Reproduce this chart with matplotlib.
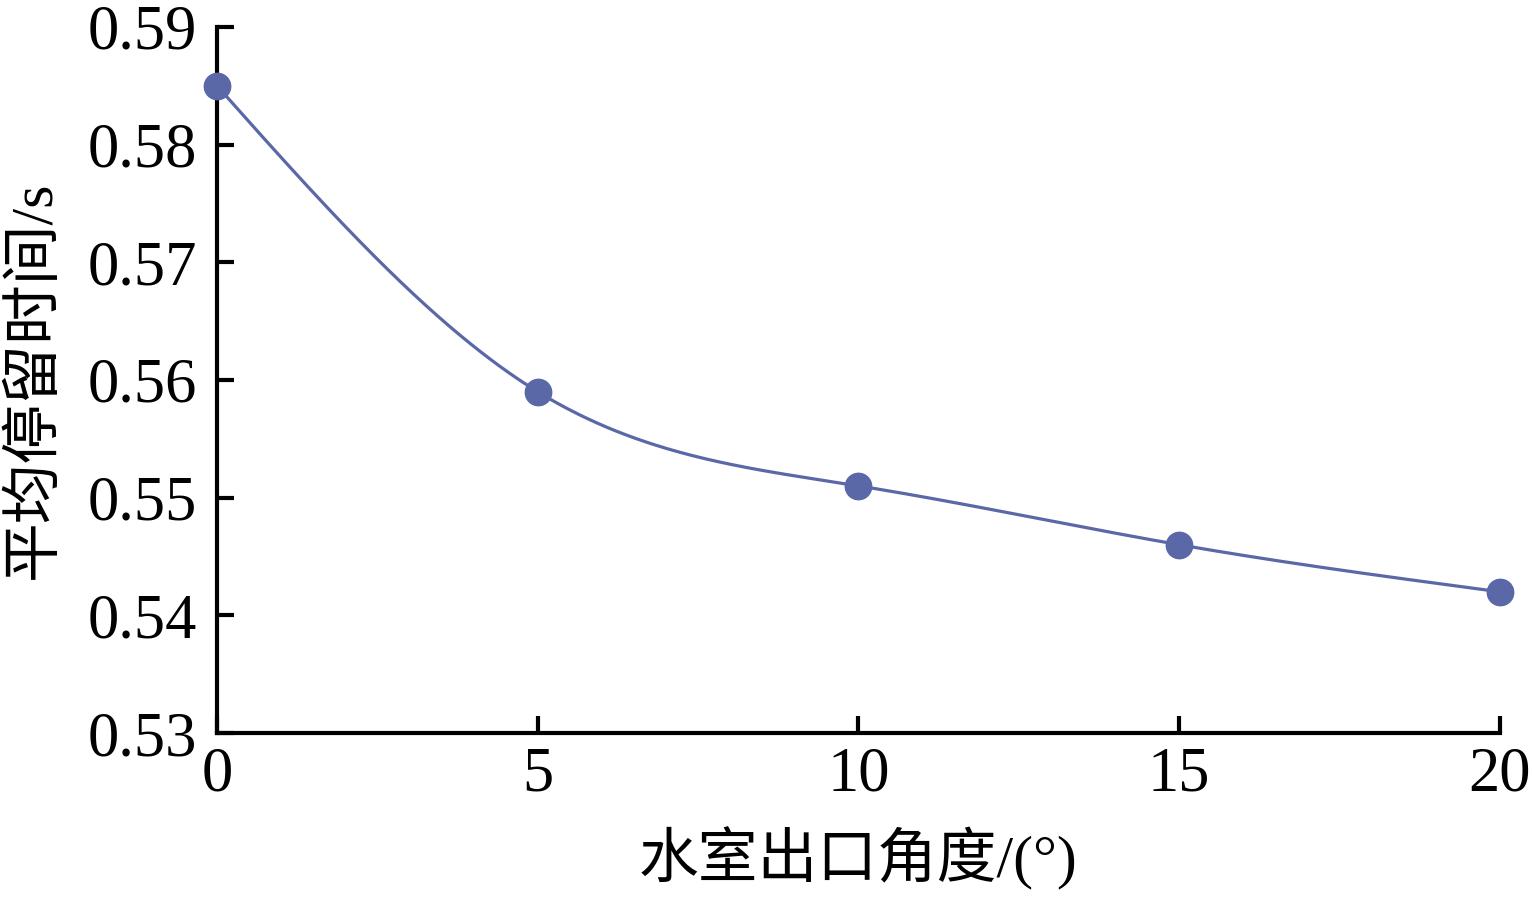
import numpy as np
import matplotlib
matplotlib.use('Agg')
import matplotlib.pyplot as plt

plt.rcParams['font.family'] = ['Liberation Serif', 'Noto Sans CJK SC']

# 数据
angles = [0, 5, 10, 15, 20]
times = [0.585, 0.559, 0.551, 0.546, 0.542]

x_ticks = [0, 5, 10, 15, 20]
y_ticks = [0.53, 0.54, 0.55, 0.56, 0.57, 0.58, 0.59]


def natural_spline(xs, ys, n=400):
    # 自然三次样条，只用于画平滑曲线
    xs = np.asarray(xs, float)
    ys = np.asarray(ys, float)
    k = len(xs)
    h = np.diff(xs)
    A = np.zeros((k, k))
    b = np.zeros(k)
    A[0, 0] = A[-1, -1] = 1
    for i in range(1, k - 1):
        A[i, i - 1] = h[i - 1]
        A[i, i] = 2 * (h[i - 1] + h[i])
        A[i, i + 1] = h[i]
        b[i] = 6 * ((ys[i + 1] - ys[i]) / h[i] - (ys[i] - ys[i - 1]) / h[i - 1])
    m = np.linalg.solve(A, b)
    xx = np.linspace(xs[0], xs[-1], n)
    yy = np.empty_like(xx)
    for j, xv in enumerate(xx):
        i = min(np.searchsorted(xs, xv, side='right') - 1, k - 2)
        t = xv - xs[i]
        hi = h[i]
        a = (m[i + 1] - m[i]) / (6 * hi)
        bb = m[i] / 2
        c = (ys[i + 1] - ys[i]) / hi - hi * (2 * m[i] + m[i + 1]) / 6
        yy[j] = ys[i] + c * t + bb * t ** 2 + a * t ** 3
    return xx, yy


fig = plt.figure(figsize=(15.32, 8.97), dpi=100)
ax = fig.add_axes([0.1416, 0.1828, 0.8375, 0.7872])

color = '#5a68a8'
xs, ys = natural_spline(angles, times)
ax.plot(xs, ys, '-', color=color, lw=2.3, clip_on=False)
ax.plot(angles, times, 'o', color=color, ms=19, clip_on=False, zorder=3)

ax.set_xlim(0, 20)
ax.set_ylim(0.53, 0.59)
ax.set_xticks(x_ticks)
ax.set_yticks(y_ticks)
ax.set_xticklabels([str(v) for v in x_ticks])
ax.set_yticklabels(['%.2f' % v for v in y_ticks])

for s in ['top', 'right']:
    ax.spines[s].set_visible(False)
for s in ['left', 'bottom']:
    ax.spines[s].set_linewidth(3)
ax.tick_params(direction='in', length=12, width=3, labelsize=45)
ax.tick_params(axis='y', pad=14)
ax.tick_params(axis='x', pad=10)

ax.set_xlabel('水室出口角度/(°)', fontsize=43, labelpad=16)
ax.set_ylabel('平均停留时间/s', fontsize=43, labelpad=18)

fig.savefig('out.png', dpi=100)
